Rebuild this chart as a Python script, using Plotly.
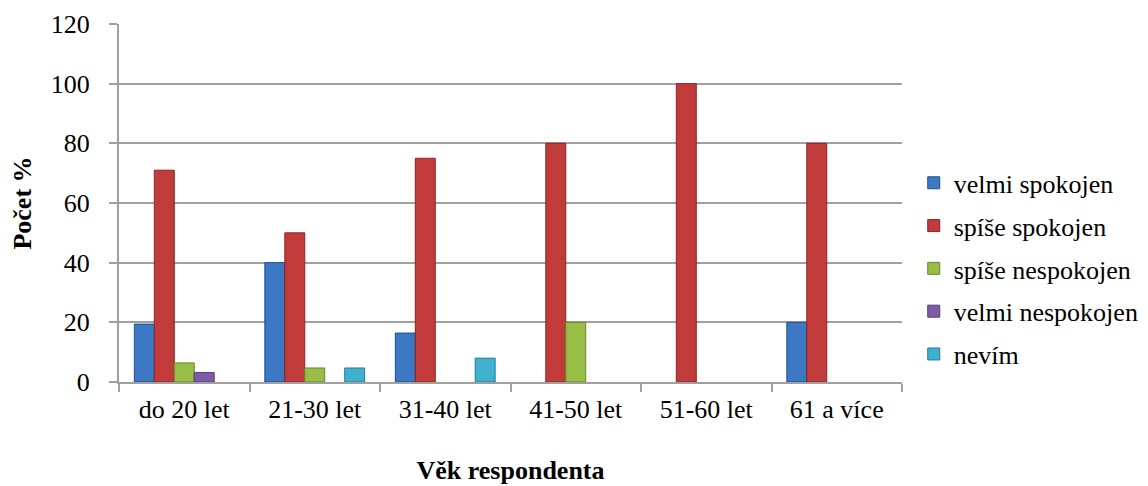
import plotly.graph_objects as go

categories = ["do 20 let", "21-30 let", "31-40 let", "41-50 let", "51-60 let", "61 a více"]
series_names = ["velmi spokojen", "spíše spokojen", "spíše nespokojen", "velmi nespokojen", "nevím"]
velmi_spokojen = [19.4, 40, 16.4, None, None, 20]
spise_spokojen = [71, 50, 75, 80, 100, 80]
spise_nespokojen = [6.4, 4.7, None, 20, None, None]
velmi_nespokojen = [3.2, None, None, None, None, None]
nevim = [None, 4.7, 8, None, None, None]
y_ticks = [0, 20, 40, 60, 80, 100, 120]

values = [velmi_spokojen, spise_spokojen, spise_nespokojen, velmi_nespokojen, nevim]
colors = ["#3C78C3", "#C23B3B", "#98BE45", "#7D5BA6", "#3FB0CE"]
edges = ["#1F4F8C", "#8C2424", "#67872C", "#553C7A", "#237E98"]

FONT = "Liberation Serif, Times New Roman, serif"

fig = go.Figure()
for i, (name, vals) in enumerate(zip(series_names, values)):
    fig.add_trace(go.Bar(
        x=categories, y=vals, name=name,
        marker=dict(color=colors[i], line=dict(color=edges[i], width=1)),
        legendgroup=f"g{i}",
    ))

fig.update_layout(
    width=1148, height=486,
    margin=dict(l=111, r=252, t=16, b=112),
    paper_bgcolor="white", plot_bgcolor="white",
    barmode="group", bargap=0.235, bargroupgap=0,
    font=dict(family=FONT, size=26, color="black"),
    legend=dict(
        x=1.015, y=0.316, xanchor="left", yanchor="middle",
        font=dict(family=FONT, size=26, color="black"), tracegroupgap=6, itemwidth=30,
    ),
    xaxis=dict(
        showline=True, linecolor="#A0A0A0", linewidth=2,
        ticks="outside", ticklen=8, tickcolor="#A0A0A0", tickwidth=2,
        tickson="boundaries", automargin=False, ticklabelstandoff=3,
        tickfont=dict(family=FONT, size=26, color="black"),
        title=dict(text="<b>Věk respondenta</b>", font=dict(family=FONT, size=26, color="black"), standoff=38),
    ),
    yaxis=dict(
        range=[0, 120], tickvals=y_ticks,
        showline=True, linecolor="#A0A0A0", linewidth=2,
        showgrid=True, gridcolor="#A0A0A0", gridwidth=2,
        ticks="outside", ticklen=8, tickcolor="#A0A0A0", tickwidth=2,
        ticklabelstandoff=14, automargin=False,
        zeroline=False,
        tickfont=dict(family=FONT, size=26, color="black"),
        title=dict(text="<b>Počet %</b>", font=dict(family=FONT, size=26, color="black"), standoff=25),
    ),
)

fig.write_html("out.html")
